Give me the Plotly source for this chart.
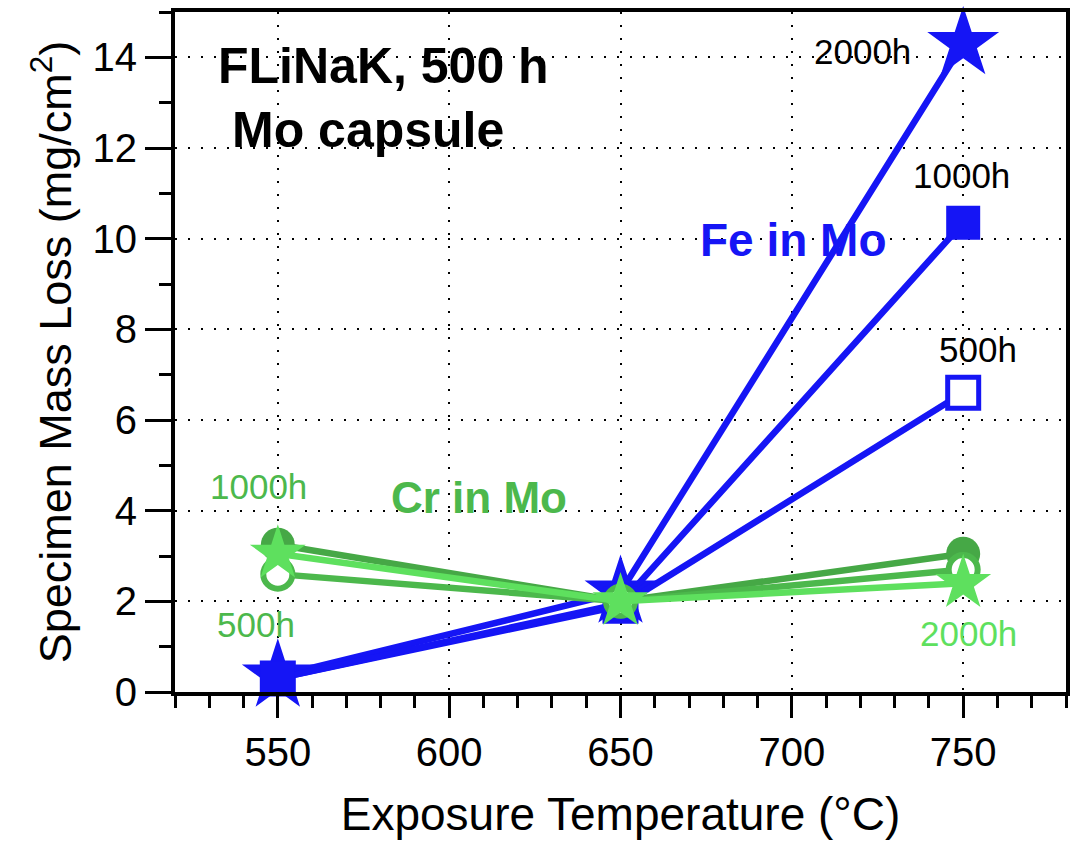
import plotly.graph_objects as go

temps = [550, 650, 750]

fe_500h = [0.30, 1.90, 6.60]
fe_1000h = [0.30, 1.95, 10.35]
fe_2000h = [0.35, 2.20, 14.30]

cr_500h = [2.60, 2.00, 2.70]
cr_1000h = [3.25, 2.00, 3.05]
cr_2000h = [3.05, 2.00, 2.40]

BLUE = "#1515f5"
CR_DARK = "#46a846"
CR_MID = "#4cb84c"
CR_LIGHT = "#5ee05e"
FONT = "Liberation Sans, Arial, sans-serif"

fig = go.Figure()

def add(y, color, symbol, size, lw=6.5, fill=None, mlw=0):
    fig.add_trace(go.Scatter(
        x=temps, y=y, mode="lines+markers",
        line=dict(color=color, width=lw),
        marker=dict(symbol=symbol, size=size, color=fill or color,
                    line=dict(color=color, width=mlw)),
        showlegend=False, cliponaxis=False))

add(fe_2000h, BLUE, "star", 54)
add(fe_500h, BLUE, "square", 31, fill="white", mlw=5)
add(fe_1000h, BLUE, "square", 34)
add(cr_1000h, CR_DARK, "circle", 34)
add(cr_500h, CR_MID, "circle", 29, fill="white", mlw=6)
add(cr_2000h, CR_LIGHT, "star", 42)

ann = [
    (383, 62, "<b>FLiNaK, 500 h</b>", "black", 50),
    (368, 127, "<b>Mo capsule</b>", "black", 50),
    (862, 48, "2000h", "black", 35),
    (961, 172, "1000h", "black", 35),
    (978, 347, "500h", "black", 35),
    (793, 237, "<b>Fe in Mo</b>", BLUE, 46),
    (479, 496, "<b>Cr in Mo</b>", CR_MID, 44),
    (258, 485, "1000h", CR_MID, 35),
    (256, 624, "500h", CR_MID, 35),
    (968, 633, "2000h", CR_LIGHT, 35),
]
for x, y, t, c, s in ann:
    fig.add_annotation(xref="paper", yref="paper",
                       x=(x - 175) / (1066 - 175), y=(692 - y) / (692 - 8),
                       text=t, showarrow=False, xanchor="center", yanchor="middle",
                       font=dict(color=c, size=s, family=FONT))

fig.update_layout(
    width=1079, height=843,
    margin=dict(l=175, r=13, t=8, b=151),
    plot_bgcolor="white", paper_bgcolor="white",
    font=dict(family=FONT, color="black"),
)
fig.update_xaxes(
    range=[520, 780], tickvals=[550, 600, 650, 700, 750],
    ticks="outside", ticklen=22, tickwidth=3, tickcolor="black",
    minor=dict(dtick=10, tick0=520, ticks="outside", ticklen=12, tickwidth=3, tickcolor="black", showgrid=False),
    showline=True, linecolor="black", linewidth=4, mirror=True,
    showgrid=True, gridcolor="black", gridwidth=2, griddash="2px,11px",
    tickfont=dict(size=40), zeroline=False,
    title=dict(text="Exposure Temperature (°C)", font=dict(size=46), standoff=26),
)
fig.update_yaxes(
    range=[0, 15], tickvals=[0, 2, 4, 6, 8, 10, 12, 14],
    ticks="outside", ticklen=26, tickwidth=3, tickcolor="black",
    minor=dict(dtick=1, tick0=0, ticks="outside", ticklen=12, tickwidth=3, tickcolor="black", showgrid=False),
    showline=True, linecolor="black", linewidth=4, mirror=True,
    showgrid=True, gridcolor="black", gridwidth=2, griddash="2px,11px",
    tickfont=dict(size=40), zeroline=False,
    title=dict(text="Specimen Mass Loss (mg/cm<sup>2</sup>)", font=dict(size=45), standoff=8),
)

fig.write_html("out.html")
